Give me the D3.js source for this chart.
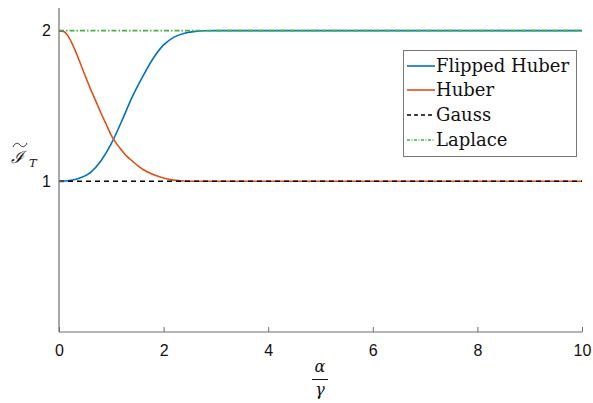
<!DOCTYPE html>
<html><head><meta charset="utf-8">
<script src="https://cdn.jsdelivr.net/npm/d3@7"></script>
<style>body{margin:0;background:#fff}</style>
</head><body>
<svg id="c" width="593" height="403"></svg>
<script>
const xTicks = [0, 2, 4, 6, 8, 10];
const yTicks = [1, 2];
const seriesNames = ["Flipped Huber", "Huber", "Gauss", "Laplace"];
const flippedX = [0, 0.2, 0.4, 0.6, 0.8, 1.0, 1.2, 1.4, 1.6, 1.8, 2.0, 2.2, 2.4, 2.6, 2.8, 3.0, 4, 6, 8, 10];
const flippedY = [1.0, 1.005, 1.022, 1.058, 1.135, 1.25, 1.40, 1.56, 1.695, 1.815, 1.905, 1.957, 1.983, 1.994, 1.999, 2.0, 2.0, 2.0, 2.0, 2.0];
const huberX = [0, 0.1, 0.2, 0.3, 0.4, 0.5, 0.6, 0.7, 0.8, 0.9, 1.0, 1.1, 1.2, 1.3, 1.4, 1.5, 1.6, 1.8, 2.0, 2.2, 2.4, 2.6, 3, 4, 6, 8, 10];
const huberY = [2.0, 1.992, 1.948, 1.875, 1.79, 1.70, 1.615, 1.535, 1.455, 1.38, 1.305, 1.25, 1.205, 1.165, 1.135, 1.105, 1.08, 1.045, 1.022, 1.008, 1.002, 1.0, 1.0, 1.0, 1.0, 1.0, 1.0];
const gaussX = [0, 10];
const gaussY = [1, 1];
const laplaceX = [0, 10];
const laplaceY = [2, 2];
const colors = ["#0072BD", "#D95319", "#000000", "#44B044"];
const dashes = [null, null, "5,4", "5,2,1.5,2"];

const svg = d3.select("#c");
const L = 59, R = 582, T = 8, B = 332;
const x = d3.scaleLinear().domain([0, 10]).range([L, R]);
const y = d3.scaleLinear().domain([0, 2.15]).range([B, T]);
const axisColor = "#6e6e6e";

const series = [
  flippedX.map((v, i) => [v, flippedY[i]]),
  huberX.map((v, i) => [v, huberY[i]]),
  gaussX.map((v, i) => [v, gaussY[i]]),
  laplaceX.map((v, i) => [v, laplaceY[i]])
];

const line = d3.line().x(d => x(d[0])).y(d => y(d[1])).curve(d3.curveMonotoneX);
series.forEach((s, i) => {
  svg.append("path").attr("d", line(s)).attr("fill", "none")
    .attr("stroke", colors[i]).attr("stroke-width", 1.6)
    .attr("stroke-dasharray", dashes[i]);
});

// axes
const xa = svg.append("g").attr("transform", `translate(0,${B})`)
  .call(d3.axisBottom(x).tickValues(xTicks).tickFormat(d3.format("d")).tickSizeInner(-5).tickSizeOuter(0).tickPadding(13));
const ya = svg.append("g").attr("transform", `translate(${L},0)`)
  .call(d3.axisLeft(y).tickValues(yTicks).tickFormat(d3.format("d")).tickSizeInner(-5).tickSizeOuter(0).tickPadding(8));
[xa, ya].forEach(a => {
  a.select(".domain").attr("stroke", axisColor).attr("stroke-width", 1.2);
  a.selectAll(".tick line").attr("stroke", axisColor);
  a.selectAll(".tick text").attr("fill", "#111").attr("font-family", "Liberation Sans, Arial, sans-serif").attr("font-size", 16);
});
ya.select(".domain").attr("d", `M0,${T}V${B}`);
xa.select(".domain").attr("d", `M${L},0H${R}`);

// x label: alpha over gamma
const xl = svg.append("g").attr("font-family", "DejaVu Serif, serif").attr("font-style", "italic").attr("font-size", 16).attr("fill", "#111");
xl.append("text").attr("x", 320).attr("y", 372).attr("text-anchor", "middle").text("α");
xl.append("line").attr("x1", 312).attr("x2", 328).attr("y1", 379.5).attr("y2", 379.5).attr("stroke", "#111").attr("stroke-width", 1);
xl.append("text").attr("x", 320).attr("y", 395).attr("text-anchor", "middle").text("γ");

// y label
const yl = svg.append("g").attr("fill", "#111");
yl.append("text").attr("x", 11).attr("y", 163).attr("font-family", "DejaVu Serif, serif").attr("font-style", "italic").attr("font-size", 17).text("ℐ");
yl.append("text").attr("x", 29).attr("y", 167).attr("font-family", "DejaVu Serif, serif").attr("font-style", "italic").attr("font-size", 11.5).text("T");
yl.append("path").attr("d", "M13,147 C15,142.5 18,142.5 20,145 C22,147.5 25,147.5 27,143").attr("fill", "none").attr("stroke", "#111").attr("stroke-width", 0.9);

// legend
const lg = svg.append("g");
lg.append("rect").attr("x", 403.5).attr("y", 50.5).attr("width", 173).attr("height", 106)
  .attr("fill", "#fff").attr("stroke", "#777").attr("stroke-width", 1);
const rowsY = [66, 90, 115, 140];
seriesNames.forEach((n, i) => {
  lg.append("line").attr("x1", 407).attr("x2", 435).attr("y1", rowsY[i]).attr("y2", rowsY[i])
    .attr("stroke", colors[i]).attr("stroke-width", 1.6).attr("stroke-dasharray", dashes[i] ? (i === 2 ? "4,3" : "3,1.5,1,1.5") : null);
  lg.append("text").attr("x", 436).attr("y", rowsY[i] + 6).attr("font-family", "DejaVu Serif, serif")
    .attr("font-size", 18).attr("fill", "#111").text(n);
});
</script>
</body></html>
